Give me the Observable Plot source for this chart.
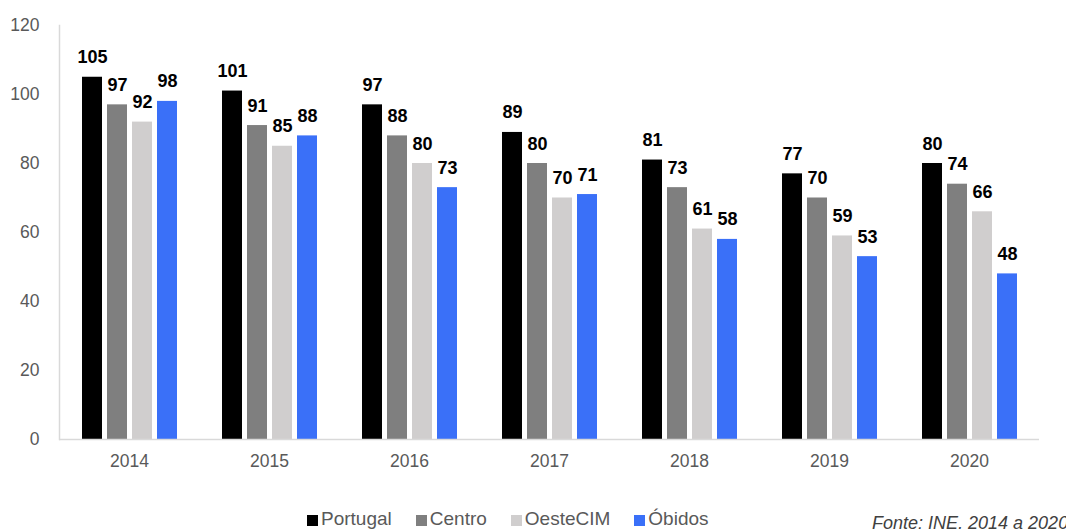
<!DOCTYPE html>
<html>
<head>
<meta charset="utf-8">
<script src="https://cdn.jsdelivr.net/npm/d3@7"></script>
<script src="https://cdn.jsdelivr.net/npm/@observablehq/plot@0.6"></script>
<style>
  body { margin: 0; background: #fff; font-family: "Liberation Sans", Arial, sans-serif; width: 1066px; height: 529px; overflow: hidden; position: relative; }
  #legend { position: absolute; top: 508px; left: 307px; display: flex; gap: 24px; font-size: 19px; line-height: 22px; color: #595959; }
  #legend span.item { display: flex; align-items: center; gap: 3px; }
  #legend span.sw { width: 11px; height: 11px; display: inline-block; margin-top: 3px; }
  #note { position: absolute; left: 872px; top: 512px; font-size: 18px; line-height: 22px; font-style: italic; color: #404040; white-space: nowrap; }
</style>
</head>
<body>
<div id="chart"></div>
<div id="legend"></div>
<div id="note">Fonte: INE, 2014 a 2020</div>
<script>
const years = ["2014", "2015", "2016", "2017", "2018", "2019", "2020"];
const series = ["Portugal", "Centro", "OesteCIM", "Óbidos"];
const colors = ["#000000", "#7f7f7f", "#d0cece", "#3a70f8"];
const portugal = [105, 101, 97, 89, 81, 77, 80];
const centro = [97, 91, 88, 80, 73, 70, 74];
const oestecim = [92, 85, 80, 70, 61, 59, 66];
const obidos = [98, 88, 73, 71, 58, 53, 48];
const yTicks = [0, 20, 40, 60, 80, 100, 120];

const values = [portugal, centro, oestecim, obidos];
const data = [];
years.forEach((y, i) => series.forEach((s, j) => data.push({year: y, series: s, value: values[j][i]})));

const chart = Plot.plot({
  width: 1066,
  height: 480,
  marginLeft: 59,
  marginRight: 27,
  marginTop: 25,
  marginBottom: 41,
  style: {fontFamily: "'Liberation Sans', Arial, sans-serif", fontSize: "17px", color: "#595959", background: "transparent"},
  fx: {domain: years, padding: 0, label: null, axis: null},
  x: {domain: series, paddingInner: 0.2, paddingOuter: 0.9, axis: null},
  y: {domain: [0, 120], ticks: yTicks, label: null},
  color: {domain: series, range: colors},
  marks: [
    Plot.axisY({ticks: yTicks, tickSize: 0, tickPadding: 20, label: null, fontSize: 17.5, fill: "#595959"}),
    Plot.axisFx({anchor: "bottom", tickSize: 0, tickPadding: 15, label: null, fontSize: 17.5, fill: "#595959"}),
    Plot.barY(data, {fx: "year", x: "series", y: "value", fill: "series"}),
    Plot.text(data, {fx: "year", x: "series", y: "value", text: d => String(d.value), lineAnchor: "bottom", dy: -14, fontWeight: "bold", fontSize: 18, fill: "#000"}),
    Plot.ruleY([0], {stroke: "#d9d9d9", strokeWidth: 1.5}),
    Plot.frame({anchor: "left", fx: ["2014"], stroke: "#d9d9d9", strokeWidth: 1.5})
  ]
});
document.getElementById("chart").appendChild(chart);

const legend = document.getElementById("legend");
series.forEach((s, i) => {
  const item = document.createElement("span");
  item.className = "item";
  const sw = document.createElement("span");
  sw.className = "sw";
  sw.style.background = colors[i];
  item.appendChild(sw);
  item.appendChild(document.createTextNode(s));
  legend.appendChild(item);
});
</script>
</body>
</html>
